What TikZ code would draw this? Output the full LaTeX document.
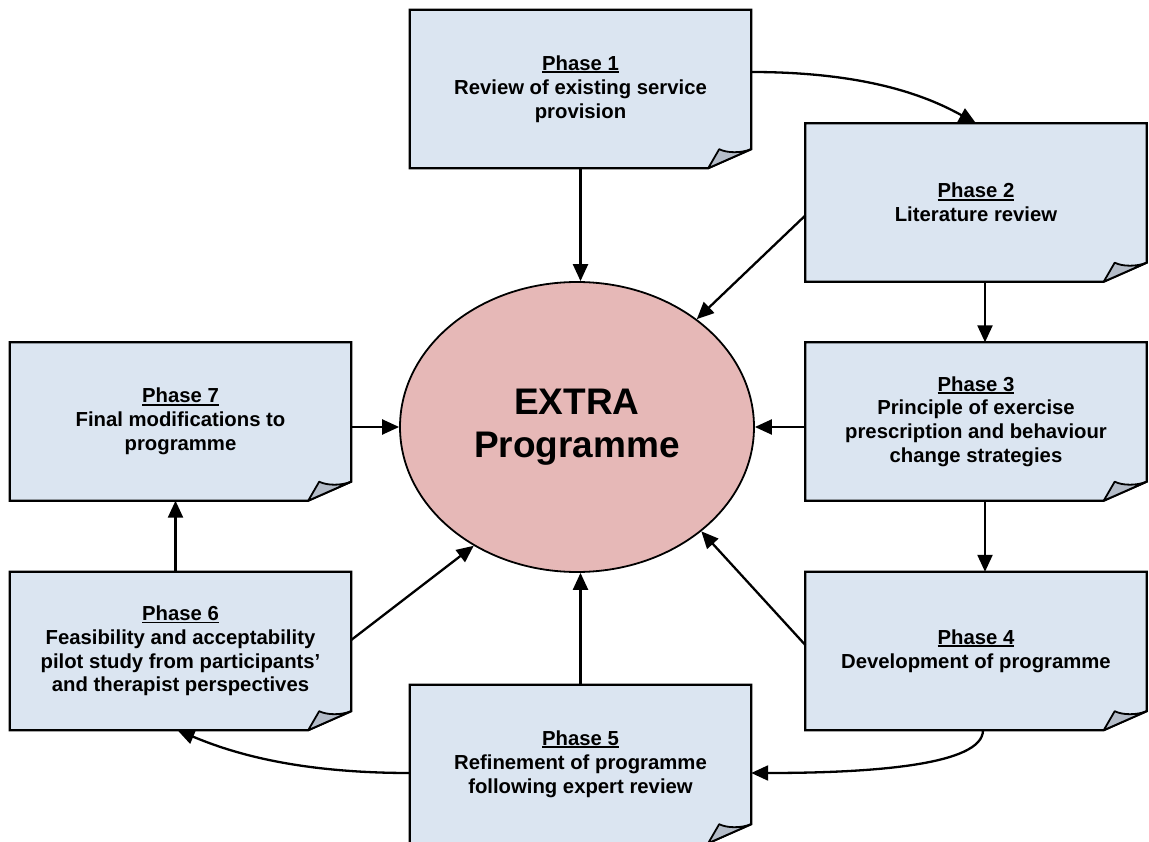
\documentclass[tikz,border=0pt]{standalone}
\usepackage{fontspec}
\setmainfont{Liberation Sans}
\usetikzlibrary{arrows.meta,shapes.geometric}
\pgfdeclarelayer{background}
\pgfsetlayers{background,main}
\definecolor{boxfill}{HTML}{DBE5F1}
\definecolor{foldfill}{HTML}{B4BCC8}
\definecolor{ellfill}{HTML}{E6B8B7}
\newcommand{\phul}[1]{\setbox0\hbox{#1}\rlap{\rule[-2.8pt]{\wd0}{1.8pt}}\box0}
\tikzset{
  pbox/.style={minimum width=341pt,minimum height=158pt,inner sep=0pt,align=center,
    font=\fontsize{20.3}{23.8}\selectfont\bfseries},
  boxline/.style={draw=black,line width=2.2pt,fill=boxfill,line join=miter},
  foldline/.style={draw=black,line width=1.8pt,fill=foldfill,line join=round},
  conn/.style={line width=2.3pt,-{Triangle[length=17pt,width=15pt]}},
}
\newcommand{\pagebox}[3]{%
  \node[pbox] (#1) at #2 {#3};
  \begin{pgfonlayer}{background}
  \draw[boxline] (#1.north west) -- (#1.north east) -- ([yshift=19pt]#1.south east)
     -- ([xshift=-43pt]#1.south east) -- (#1.south west) -- cycle;
  \draw[foldline] ([yshift=19pt]#1.south east)
     .. controls ([xshift=-10pt,yshift=15pt]#1.south east) and ([xshift=-24pt,yshift=15pt]#1.south east)
     .. ([xshift=-32pt,yshift=19pt]#1.south east)
     -- ([xshift=-43pt]#1.south east) -- cycle;
  \end{pgfonlayer}}
\begin{document}
\begin{tikzpicture}[x=1pt,y=-1pt]
\useasboundingbox (0,0) rectangle (1149,842);
\pagebox{p1}{(580.5,89)}{\phul{Phase 1}\\Review of existing service\\provision}
\pagebox{p2}{(976,202.5)}{\phul{Phase 2}\\Literature review}
\pagebox{p3}{(976,421.5)}{\phul{Phase 3}\\Principle of exercise\\prescription and behaviour\\change strategies}
\pagebox{p4}{(976,651)}{\phul{Phase 4}\\Development of programme}
\pagebox{p5}{(580.5,764)}{\phul{Phase 5}\\Refinement of programme\\following expert review}
\pagebox{p6}{(180.5,651)}{\phul{Phase 6}\\Feasibility and acceptability\\pilot study from participants’\\and therapist perspectives}
\pagebox{p7}{(180.5,421.5)}{\phul{Phase 7}\\Final modifications to\\programme}
\node[ellipse,draw=black,line width=1.8pt,fill=ellfill,minimum width=354pt,minimum height=290pt,
  inner sep=0pt,align=center,font=\fontsize{37}{43}\selectfont\bfseries] (ell) at (577,427) {EXTRA\\Programme};
% spokes
\draw[conn] (p1.south) -- (p1.south |- ell.north);
\draw[conn] ([yshift=-13pt]p2.west) -- (ell.42);
\draw[conn] (p3.west |- ell.east) -- (ell.east);
\draw[conn] ([yshift=6pt]p4.west) -- (ell.-40);
\draw[conn] (p5.north) -- (p5.north |- ell.south);
\draw[conn] ([yshift=11pt]p6.east) -- (ell.-131);
\draw[conn] (p7.east |- ell.west) -- (ell.west);
% cycle
\draw[conn] ([yshift=17pt]p1.east) .. controls ([xshift=120pt,yshift=17pt]p1.east) and ([xshift=-45pt,yshift=25pt]p2.north) .. (p2.north);
\draw[conn] ([xshift=9pt]p2.south) -- ([xshift=9pt]p3.north);
\draw[conn] ([xshift=9pt]p3.south) -- ([xshift=9pt]p4.north);
\draw[conn] ([xshift=7pt]p4.south) .. controls ([xshift=7pt,yshift=-35pt]p4.south) and ([xshift=120pt,yshift=-9pt]p5.east) .. ([yshift=-9pt]p5.east);
\draw[conn] ([yshift=-9pt]p5.west) .. controls ([xshift=-120pt,yshift=-9pt]p5.west) and ([xshift=45pt,yshift=-20pt]p6.south) .. ([xshift=-3pt]p6.south);
\draw[conn] ([xshift=-5pt]p6.north) -- ([xshift=-5pt]p7.south);
\end{tikzpicture}
\end{document}
